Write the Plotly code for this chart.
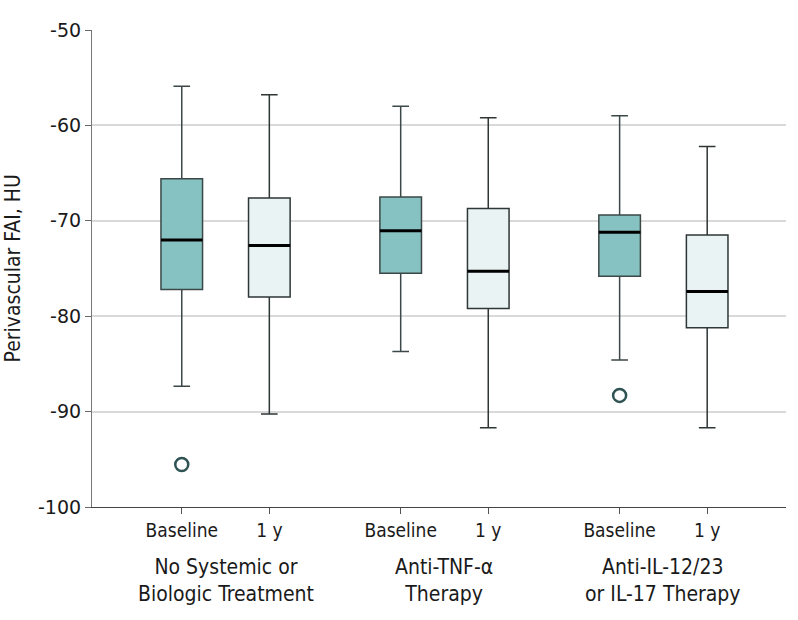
import plotly.graph_objects as go

# ---- data ----
groups = ["No Systemic or<br>Biologic Treatment", "Anti-TNF-α<br>Therapy", "Anti-IL-12/23<br>or IL-17 Therapy"]
timepoints = ["Baseline", "1 y"]
group_pos = [0, 1, 2]
offset = 0.2

base_upper = [-55.9, -58.0, -59.0]
base_q3 = [-65.6, -67.5, -69.4]
base_median = [-72.0, -71.05, -71.2]
base_q1 = [-77.2, -75.5, -75.8]
base_lower = [-87.35, -83.7, -84.6]

y1_upper = [-56.8, -59.2, -62.2]
y1_q3 = [-67.6, -68.7, -71.5]
y1_median = [-72.6, -75.3, -77.4]
y1_q1 = [-78.0, -79.2, -81.2]
y1_lower = [-90.25, -91.7, -91.7]

outlier_group = [0, 2]
outlier_values = [-95.55, -88.3]

y_ticks = [-100, -90, -80, -70, -60, -50]
y_ticktext = ["-100", "-90", "-80", "-70", "-60", "-50"]

# ---- derived positions ----
base_x = [g - offset for g in group_pos]
y1_x = [g + offset for g in group_pos]
box_w = 0.19

edge = "#3c4747"
fig = go.Figure()
fig.add_trace(go.Box(
    x=base_x, q1=base_q1, median=base_median, q3=base_q3,
    lowerfence=base_lower, upperfence=base_upper,
    fillcolor="#86c2c1", line=dict(color=edge, width=1.5),
    width=box_w, whiskerwidth=0.4, boxpoints=False, showlegend=False,
))
fig.add_trace(go.Box(
    x=y1_x, q1=y1_q1, median=y1_median, q3=y1_q3,
    lowerfence=y1_lower, upperfence=y1_upper,
    fillcolor="#eaf3f4", line=dict(color="#2e3636", width=1.5),
    width=box_w, whiskerwidth=0.4, boxpoints=False, showlegend=False,
))

# thick median lines
mx, my = [], []
for xs, meds in ((base_x, base_median), (y1_x, y1_median)):
    for x, m in zip(xs, meds):
        mx += [x - box_w / 2, x + box_w / 2, None]
        my += [m, m, None]
fig.add_trace(go.Scatter(x=mx, y=my, mode="lines",
                         line=dict(color="#000000", width=3),
                         showlegend=False, hoverinfo="skip"))

# outliers
fig.add_trace(go.Scatter(
    x=[group_pos[g] - offset for g in outlier_group], y=outlier_values,
    mode="markers",
    marker=dict(symbol="circle-open", size=13, color="#2f5252", line=dict(width=2.5)),
    showlegend=False,
))

tickvals = []
ticktext = []
for g in group_pos:
    tickvals += [g - offset, g + offset]
    ticktext += timepoints

text_font = "DejaVu Sans Condensed, Liberation Sans Narrow, sans-serif"

fig.update_layout(
    width=798, height=620,
    margin=dict(l=92, r=12, t=30, b=113),
    plot_bgcolor="white", paper_bgcolor="white",
    font=dict(family=text_font, color="#1a1a1a"),
    xaxis=dict(
        range=[-0.61, 2.56], tickvals=tickvals, ticktext=ticktext,
        ticks="outside", ticklen=6, tickcolor="#555555",
        showline=True, linecolor="#444444", linewidth=1.2,
        showgrid=False, zeroline=False, automargin=False,
        tickfont=dict(size=19, family=text_font, color="#1a1a1a"),
    ),
    yaxis=dict(
        range=[-100, -50], tickvals=y_ticks, ticktext=y_ticktext,
        ticks="outside", ticklen=6, tickcolor="#666666",
        showline=True, linecolor="#777777", linewidth=1.2,
        showgrid=True, gridcolor="#d9d9d9", gridwidth=1.5, zeroline=False,
        automargin=False,
        tickfont=dict(size=19, family="DejaVu Sans, sans-serif", color="#1a1a1a"),
    ),
)

fig.add_annotation(x=0, y=0.5, xref="paper", yref="paper", xanchor="center", yanchor="middle",
                   xshift=-80, text="Perivascular FAI, HU", textangle=-90, showarrow=False,
                   font=dict(size=21, family=text_font, color="#1a1a1a"))

for g, label in zip(group_pos, groups):
    fig.add_annotation(x=g, y=0, xref="x", yref="paper", yanchor="top",
                       text=label, showarrow=False, yshift=-46,
                       font=dict(size=21, family=text_font, color="#1a1a1a"))

fig.write_html("out.html", config={"displayModeBar": False},
               post_script="document.body.style.margin='0';")
